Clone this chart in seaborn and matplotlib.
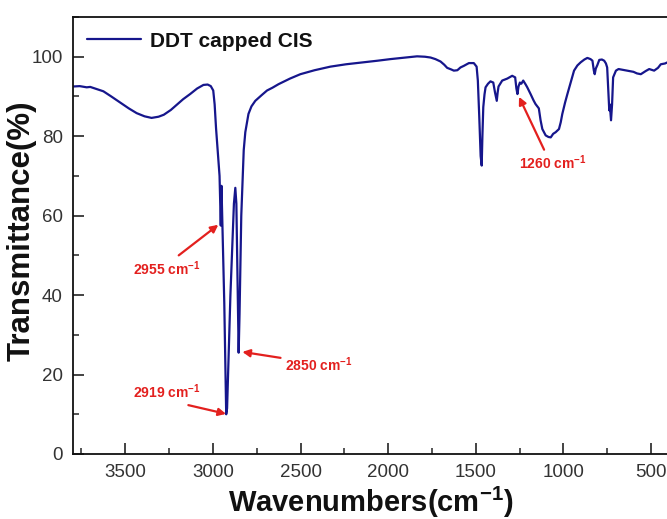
import matplotlib
matplotlib.use('Agg')
import matplotlib.pyplot as plt
from matplotlib.ticker import MultipleLocator
import seaborn as sns
import pandas as pd

# ---- data ----
wavenumber = [3800, 3760, 3720, 3700, 3660, 3625, 3580, 3530, 3480, 3435, 3390, 3350,
              3310, 3280, 3240, 3206, 3170, 3130, 3090, 3054, 3030, 3012, 2998, 2990,
              2982, 2972, 2962, 2955, 2951, 2947, 2935, 2924, 2919, 2900, 2880, 2872,
              2866, 2860, 2853, 2848, 2838, 2824, 2815, 2797, 2780, 2758, 2720, 2691,
              2660, 2625, 2560, 2501, 2420, 2330, 2240, 2140, 2060, 1987, 1900, 1835,
              1790, 1758, 1730, 1701, 1680, 1663, 1640, 1625, 1605, 1587, 1568, 1539,
              1511, 1495, 1488, 1480, 1472, 1466, 1462, 1457, 1450, 1444, 1430, 1416,
              1400, 1390, 1380, 1375, 1370, 1349, 1320, 1292, 1275, 1268, 1262, 1256,
              1248, 1240, 1229, 1215, 1206, 1187, 1170, 1159, 1140, 1130, 1120, 1101,
              1085, 1072, 1058, 1044, 1025, 1015, 1006, 990, 977, 958, 939, 920,
              901, 880, 863, 845, 834, 826, 821, 815, 806, 795, 780, 767,
              757, 750, 742, 738, 735, 728, 722, 716, 700, 685, 660, 637,
              600, 580, 558, 530, 510, 482, 460, 444, 420, 405, 400]
transmittance = [92.5, 92.6, 92.3, 92.4, 91.8, 91.3, 90.0, 88.5, 87.0, 85.8, 85.0, 84.6,
                 84.9, 85.4, 86.6, 87.9, 89.3, 90.6, 92.0, 92.9, 93.0, 92.6, 91.5, 88.0,
                 82.0, 76.0, 70.0, 57.5, 67.5, 60.0, 38.0, 10.0, 11.5, 40.0, 63.0, 67.0,
                 63.0, 45.0, 25.5, 35.0, 60.0, 76.5, 81.0, 85.6, 87.5, 88.9, 90.4, 91.5,
                 92.2, 93.1, 94.5, 95.6, 96.6, 97.5, 98.1, 98.6, 99.0, 99.4, 99.8, 100.1,
                 100.0, 99.8, 99.4, 98.8, 98.0, 97.2, 96.8, 96.5, 96.6, 97.3, 97.7, 98.4,
                 98.4, 97.5, 94.0, 85.0, 75.0, 72.6, 80.0, 87.3, 90.5, 92.3, 93.2, 93.8,
                 93.5, 91.0, 88.9, 91.0, 92.5, 94.0, 94.5, 95.2, 94.8, 92.0, 90.6, 92.5,
                 93.5, 93.2, 94.0, 93.0, 92.3, 90.6, 89.0, 88.1, 87.0, 84.0, 81.8, 80.2,
                 79.8, 79.7, 80.6, 81.0, 81.8, 83.5, 85.6, 88.5, 90.6, 93.5, 96.5, 97.8,
                 98.6, 99.3, 99.7, 99.4, 99.0, 96.5, 95.6, 97.0, 97.9, 99.2, 99.3, 99.0,
                 98.3, 97.3, 90.0, 86.5, 88.0, 84.0, 88.0, 94.8, 96.5, 96.9, 96.7, 96.5,
                 96.2, 95.8, 95.6, 96.4, 96.9, 96.5, 97.2, 98.1, 98.3, 98.6, 98.4]
series_label = 'DDT capped CIS'

x_major_ticks = [3500, 3000, 2500, 2000, 1500, 1000, 500]
y_major_ticks = [0, 20, 40, 60, 80, 100]

# annotations: (label, arrow head (wn, T), arrow tail (wn, T), text pos (wn, T), ha)
ann_labels = ['2955', '2919', '2850', '1260']
ann_heads = [(2969, 57.7), (2925, 10.1), (2832, 25.7), (1253, 89.9)]
ann_tails = [(3195, 50.0), (3140, 12.3), (2614, 24.2), (1110, 76.6)]
ann_text = [(3068, 45.0), (3068, 14.0), (2590, 21.0), (1251, 71.8)]
ann_ha = ['right', 'right', 'left', 'left']

# ---- styling ----
sns.set_theme(style='ticks')
plt.rcParams['font.family'] = ['Liberation Sans', 'DejaVu Sans']
plt.rcParams['mathtext.fontset'] = 'custom'
plt.rcParams['mathtext.rm'] = 'Liberation Sans'
plt.rcParams['mathtext.bf'] = 'Liberation Sans:bold'
plt.rcParams['mathtext.it'] = 'Liberation Sans:italic'

W, H = 667, 519
fig = plt.figure(figsize=(W / 100, H / 100), dpi=100)
ax_left, ax_right, ax_top, ax_bot = 72.7, 668.5, 17, 454
ax = fig.add_axes([ax_left / W, (H - ax_bot) / H, (ax_right - ax_left) / W, (ax_bot - ax_top) / H])

df = pd.DataFrame({'Wavenumber': wavenumber, 'Transmittance': transmittance})
line_color = '#16168c'
sns.lineplot(data=df, x='Wavenumber', y='Transmittance', ax=ax, sort=False,
             estimator=None, color=line_color, lw=1.6, label=series_label)

ax.set_xlim(3800, 400)
ax.set_ylim(0, 110)
ax.set_xticks(x_major_ticks)
ax.set_yticks(y_major_ticks)
ax.xaxis.set_minor_locator(MultipleLocator(250))
ax.yaxis.set_minor_locator(MultipleLocator(10))
ax.tick_params(which='major', direction='in', length=8, width=1.1, labelsize=13.5,
               pad=7, colors='#111111', labelcolor='#333333', top=False, right=False)
ax.tick_params(which='minor', direction='in', length=4.5, width=1.1, top=False, right=False)
for s in ax.spines.values():
    s.set_linewidth(1.3)
    s.set_color('#111111')

ax.set_xlabel(r'Wavenumbers(cm$^{\mathbf{-1}}$)', fontsize=21, fontweight='bold', color='#111111')
ax.xaxis.label.set_va('baseline')
ax.xaxis.set_label_coords((370.5 - ax_left) / (ax_right - ax_left), -(512 - ax_bot) / (ax_bot - ax_top))
ax.set_ylabel('Transmittance(%)', fontsize=22.5, fontweight='bold', color='#111111')
ax.yaxis.set_label_coords(-(ax_left - 37) / (ax_right - ax_left), 0.512)

leg = ax.legend(loc='upper left', frameon=False, prop={'weight': 'bold', 'size': 15},
                handlelength=2.6, handletextpad=0.4, borderaxespad=0.3,
                bbox_to_anchor=(0.0, 1.0))
for t in leg.get_texts():
    t.set_color('#111111')

red = '#e3201e'
for lab, head, tail, tpos, ha in zip(ann_labels, ann_heads, ann_tails, ann_text, ann_ha):
    ax.annotate('', xy=head, xytext=tail,
                arrowprops=dict(arrowstyle='-|>', color=red, lw=1.6, mutation_scale=11,
                                shrinkA=0, shrinkB=0))
    ax.text(tpos[0], tpos[1], lab + r' cm$^{\mathbf{-1}}$', color=red, fontsize=10,
            fontweight='bold', ha=ha, va='baseline')

fig.savefig('out.png', dpi=100)
